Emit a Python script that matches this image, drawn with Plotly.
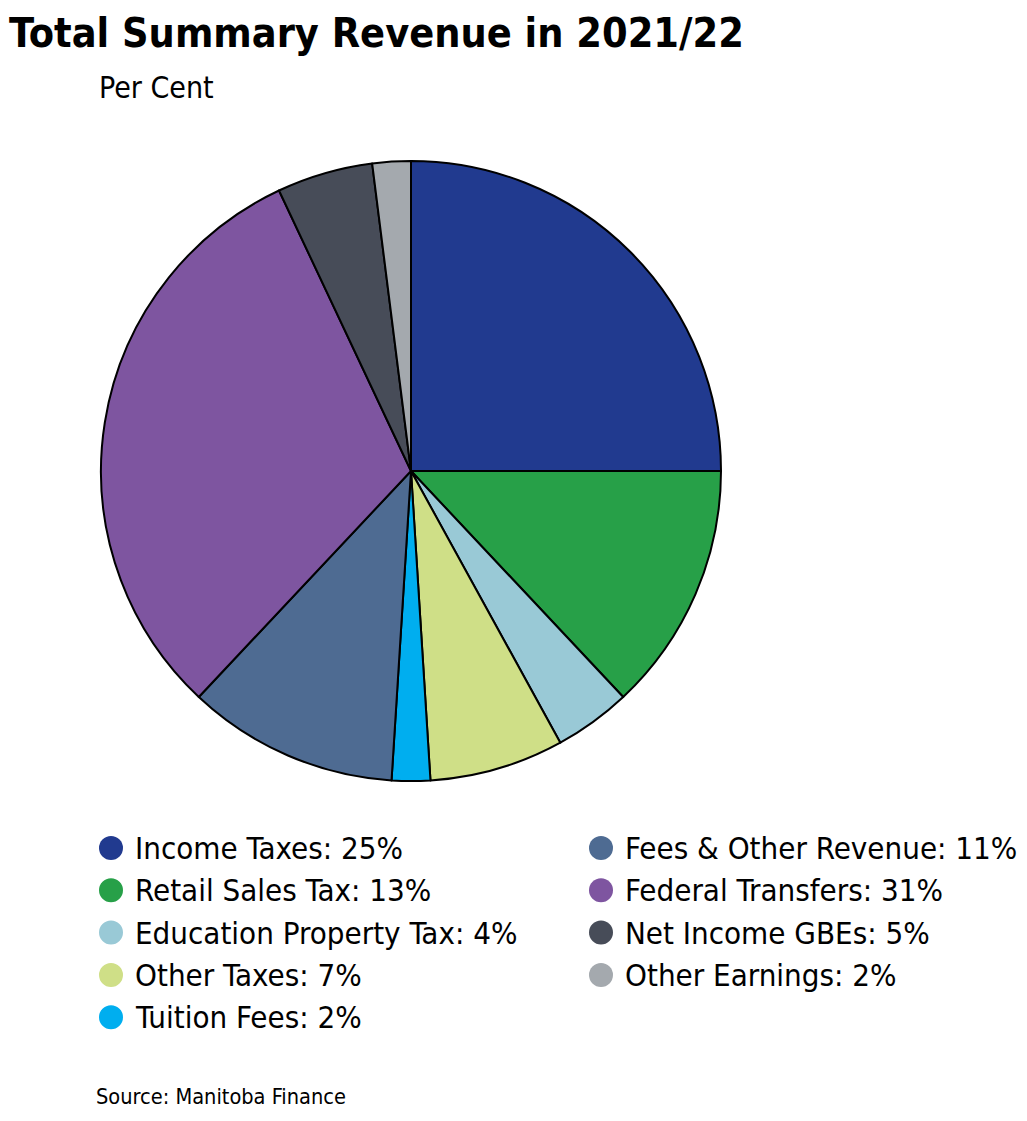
import plotly.graph_objects as go

categories = ["Income Taxes", "Retail Sales Tax", "Education Property Tax", "Other Taxes",
              "Tuition Fees", "Fees & Other Revenue", "Federal Transfers", "Net Income GBEs",
              "Other Earnings"]
values = [25, 13, 4, 7, 2, 11, 31, 5, 2]
colors = ["#213A8F", "#27A048", "#99C9D6", "#CFDF87", "#00AEEF", "#4E6B92", "#7E55A0",
          "#474C58", "#A4A9AE"]

W, H = 1027, 1121
OFF = 8  # page body margin
FONT = "DejaVu Sans Condensed, Liberation Sans Narrow, Roboto Condensed, sans-serif"

def px(x):
    return (x - OFF) / W

def py(y):
    return 1 - (y - OFF) / H

fig = go.Figure()
fig.add_trace(go.Pie(
    labels=categories, values=values, sort=False, direction="clockwise", rotation=0,
    marker=dict(colors=colors, line=dict(color="#000000", width=2)),
    textinfo="none", hoverinfo="label+percent", showlegend=False,
    domain=dict(x=[px(101), px(721)], y=[py(781), py(161)]),
))

annotations = [
    dict(text="<b>Total Summary Revenue in 2021/22</b>", x=0, y=1, xref="paper", yref="paper",
         xanchor="left", yanchor="top", showarrow=False, borderpad=0,
         font=dict(family=FONT, size=41, color="#000")),
    dict(text="Per Cent", x=px(97), y=py(87), xref="paper", yref="paper",
         xanchor="left", yanchor="middle", showarrow=False, font=dict(family=FONT, size=30, color="#000")),
    dict(text="Source: Manitoba Finance", x=px(94), y=py(1096), xref="paper", yref="paper",
         xanchor="left", yanchor="middle", showarrow=False, font=dict(family=FONT, size=21.6, color="#000")),
]
shapes = []
col_x = [111, 601]
row_y0, row_dy = 848, 42.3
for i, (c, v, col) in enumerate(zip(categories, values, colors)):
    ci = 0 if i < 5 else 1
    ri = i if i < 5 else i - 5
    cx, cy = col_x[ci], row_y0 + ri * row_dy
    r = 12
    shapes.append(dict(type="circle", xref="paper", yref="paper",
                       x0=px(cx - r), x1=px(cx + r), y0=py(cy + r), y1=py(cy - r),
                       fillcolor=col, line=dict(width=0)))
    annotations.append(dict(text=f"{c}: {v}%", x=px(cx + 22), y=py(cy), xref="paper", yref="paper",
                            xanchor="left", yanchor="middle", showarrow=False,
                            font=dict(family=FONT, size=31, color="#000")))

fig.update_layout(width=W, height=H, margin=dict(l=0, r=0, t=0, b=0),
                  paper_bgcolor="white", plot_bgcolor="white",
                  annotations=annotations, shapes=shapes)
fig.write_html("out.html")
